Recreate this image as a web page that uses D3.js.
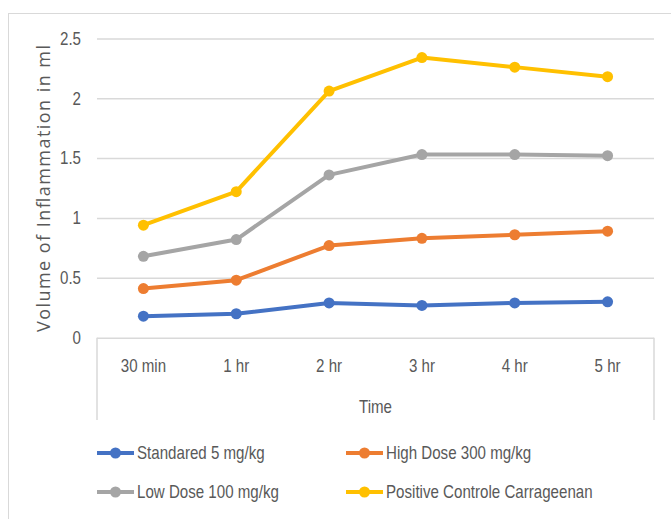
<!DOCTYPE html>
<html>
<head>
<meta charset="utf-8">
<script src="https://cdn.jsdelivr.net/npm/d3@7"></script>
<style>
  html, body { margin: 0; padding: 0; background: #fff; }
  svg { display: block; }
  text { fill: #595959; }
</style>
</head>
<body>
<svg id="chart" width="671" height="519"></svg>
<script>
// Paw oedema volume over time for each treatment group
const timePoints = ["30 min", "1 hr", "2 hr", "3 hr", "4 hr", "5 hr"];
const standard5 = [0.18, 0.20, 0.29, 0.27, 0.29, 0.30];
const highDose300 = [0.41, 0.48, 0.77, 0.83, 0.86, 0.89];
const lowDose100 = [0.68, 0.82, 1.36, 1.53, 1.53, 1.52];
const positiveControl = [0.94, 1.22, 2.06, 2.34, 2.26, 2.18];
const seriesNames = ["Standared 5 mg/kg", "High Dose 300 mg/kg", "Low Dose 100 mg/kg", "Positive Controle Carrageenan"];
const seriesColors = ["#4472C4", "#ED7D31", "#A5A5A5", "#FFC000"];
const yTickValues = [0, 0.5, 1, 1.5, 2, 2.5];
const yTickLabels = ["0", "0.5", "1", "1.5", "2", "2.5"];

const seriesValues = [standard5, highDose300, lowDose100, positiveControl];
const series = seriesNames.map((name, i) => ({ name, color: seriesColors[i], values: seriesValues[i] }));

const svg = d3.select("#chart");
const plot = { left: 97, right: 654, top: 38.4, bottom: 337.7 };
const labelFont = "'Liberation Sans', Arial, sans-serif";
const narrow = 0.84; // horizontal squeeze for the condensed label face

// Condense a text selection horizontally while keeping its anchor x in place
function condense(sel, xPos) {
  sel.attr("x", xPos / narrow).attr("transform", `scale(${narrow},1)`);
}

// Outer chart frame
svg.append("rect")
  .attr("x", 8.5).attr("y", 13.5)
  .attr("width", 700).attr("height", 600)
  .attr("fill", "none").attr("stroke", "#d9d9d9").attr("stroke-width", 1);

const x = d3.scaleBand().domain(timePoints).range([plot.left, plot.right]);
const y = d3.scaleLinear().domain([0, 2.5]).range([plot.bottom, plot.top]);
const cx = d => x(d) + x.bandwidth() / 2;

// Value axis with horizontal gridlines
const yAxis = svg.append("g")
  .attr("transform", `translate(${plot.left},0)`)
  .call(d3.axisLeft(y)
    .tickValues(yTickValues)
    .tickFormat((d, i) => yTickLabels[i])
    .tickSizeInner(-(plot.right - plot.left))
    .tickSizeOuter(0)
    .tickPadding(16));
yAxis.select(".domain").remove();
yAxis.selectAll(".tick line").attr("stroke", "#d9d9d9").attr("stroke-width", 1.5);
yAxis.selectAll(".tick text")
  .attr("font-family", labelFont).attr("font-size", 18).attr("fill", "#595959")
  .call(condense, -16);

// Category axis box below the zero line
const boxBottom = 420;
[plot.left, plot.right].forEach(px => {
  svg.append("line")
    .attr("x1", px).attr("x2", px)
    .attr("y1", plot.bottom).attr("y2", boxBottom)
    .attr("stroke", "#d9d9d9").attr("stroke-width", 1.5);
});

const xAxis = svg.append("g")
  .attr("transform", `translate(0,${plot.bottom})`)
  .call(d3.axisBottom(x).tickSize(0).tickPadding(22));
xAxis.select(".domain").remove();
xAxis.selectAll(".tick text")
  .attr("font-family", labelFont).attr("font-size", 18).attr("fill", "#595959")
  .call(condense, 0);

// Axis titles
svg.append("text")
  .attr("y", 413)
  .attr("text-anchor", "middle")
  .attr("font-family", labelFont).attr("font-size", 18)
  .text("Time")
  .call(condense, (plot.left + plot.right) / 2);

svg.append("text")
  .attr("transform", "translate(50,188.5) rotate(-90)")
  .attr("text-anchor", "middle")
  .attr("font-family", "'Open Sans', sans-serif").attr("font-size", 18)
  .attr("textLength", 287).attr("lengthAdjust", "spacing")
  .text("Volume of Inflammation in ml");

// Series lines and markers
const line = d3.line()
  .x((d, i) => cx(timePoints[i]))
  .y(d => y(d));

const groups = svg.append("g").selectAll("g")
  .data(series).join("g");

groups.append("path")
  .attr("d", d => line(d.values))
  .attr("fill", "none")
  .attr("stroke", d => d.color)
  .attr("stroke-width", 4)
  .attr("stroke-linejoin", "round")
  .attr("stroke-linecap", "round");

groups.selectAll("circle")
  .data(d => d.values.map((v, i) => ({ v, t: timePoints[i], color: d.color })))
  .join("circle")
  .attr("cx", d => cx(d.t))
  .attr("cy", d => y(d.v))
  .attr("r", 5.5)
  .attr("fill", d => d.color);

// Legend, two columns by two rows
const legendCols = [97, 346];
const legendRows = [453, 492];
const legend = svg.append("g").selectAll("g")
  .data(series).join("g")
  .attr("transform", (d, i) => `translate(${legendCols[i % 2]},${legendRows[Math.floor(i / 2)]})`);

legend.append("line")
  .attr("x1", 0).attr("x2", 37)
  .attr("stroke", d => d.color).attr("stroke-width", 4);
legend.append("circle")
  .attr("cx", 18.5).attr("r", 5.5)
  .attr("fill", d => d.color);
legend.append("text")
  .attr("dy", "0.35em")
  .attr("font-family", labelFont).attr("font-size", 18)
  .text(d => d.name)
  .call(condense, 40);
</script>
</body>
</html>
